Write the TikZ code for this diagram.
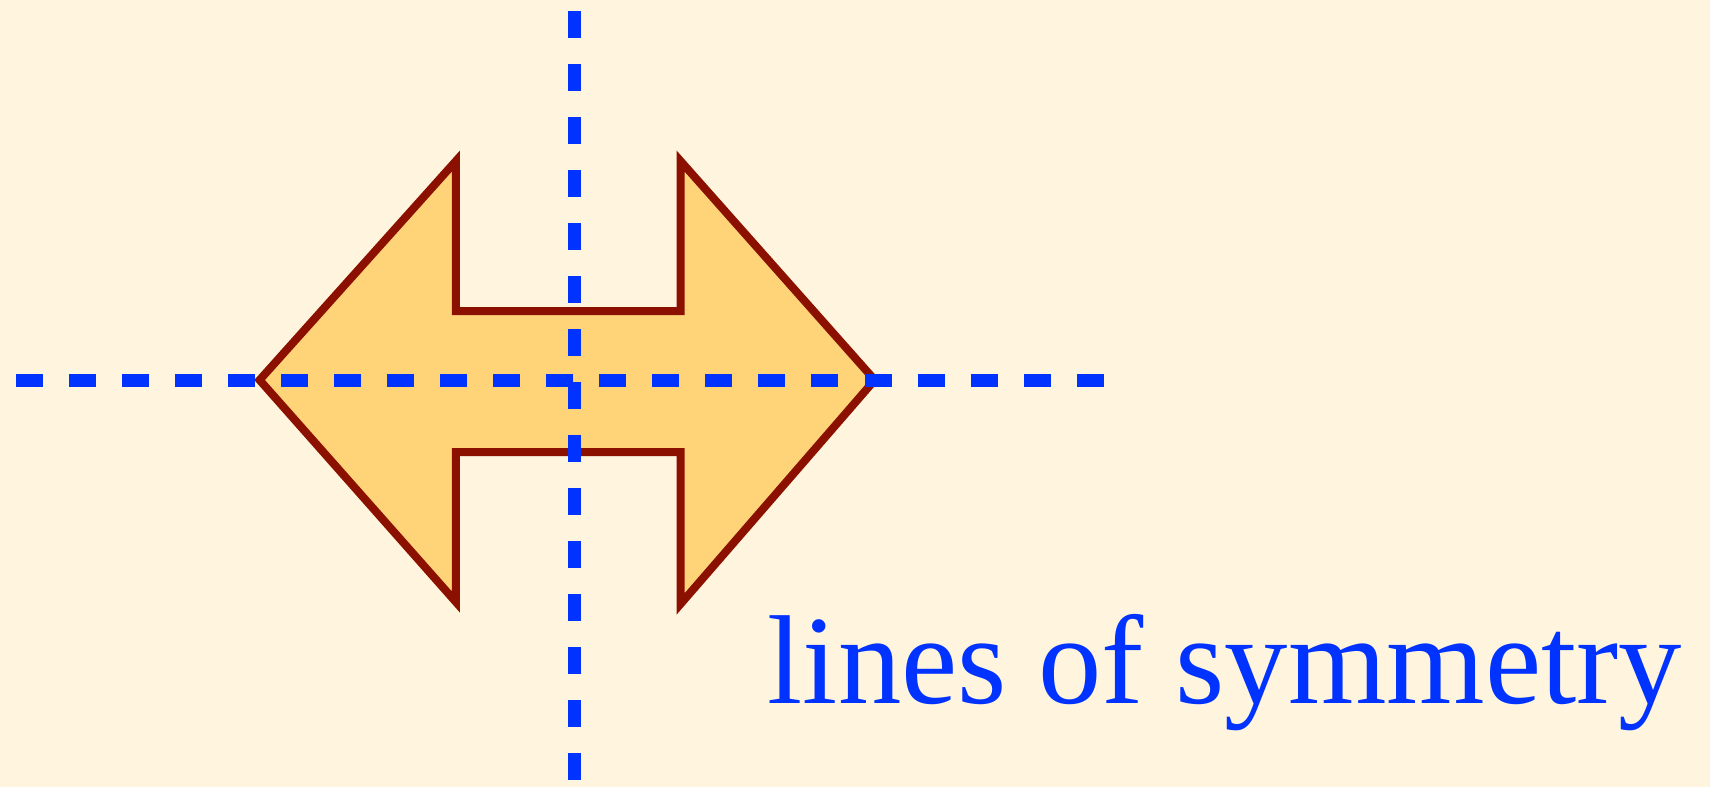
\documentclass[tikz,border=0pt]{standalone}
\usepackage{fontspec}
\setmainfont{Liberation Serif}
\definecolor{pozadina}{HTML}{FFF4DE}
\definecolor{ispuna}{HTML}{FFD479}
\definecolor{obrub}{HTML}{8B1000}
\definecolor{plava}{HTML}{0033FF}
\tikzset{
  strelica/.style={draw=obrub,fill=ispuna,line width=0.08cm,line join=miter},
  osa/.style={draw=plava,line width=0.13cm,dash pattern=on 0.27cm off 0.26cm},
  natpis/.style={text=plava,inner sep=0pt,anchor=base west,
                 font=\fontsize{36}{40}\selectfont},
}
\begin{document}
\begin{tikzpicture}[x=0.01cm,y=-0.01cm]

  % ---------- POZADINA ----------
  \fill[pozadina] (0,0) rectangle (1710,787);
  \useasboundingbox (0,0) rectangle (1710,787);

  % ---------- DVOSTRUKA STRELICA ----------
  \draw[strelica] (259.6,380) -- (455.9,161) -- (455.9,311) -- (680.5,311)
    -- (680.5,161) -- (874.7,380) -- (680.5,604) -- (680.5,452)
    -- (455.9,452) -- (455.9,602) -- cycle;

  % ---------- OSE SIMETRIJE ----------
  \draw[osa] (16,380) -- (1109,380);
  \draw[osa] (574.7,11) -- (574.7,787);

  % ---------- NATPIS ----------
  \node[natpis] (tekst) at (767,703) {lines of symmetry};

\end{tikzpicture}
\end{document}
